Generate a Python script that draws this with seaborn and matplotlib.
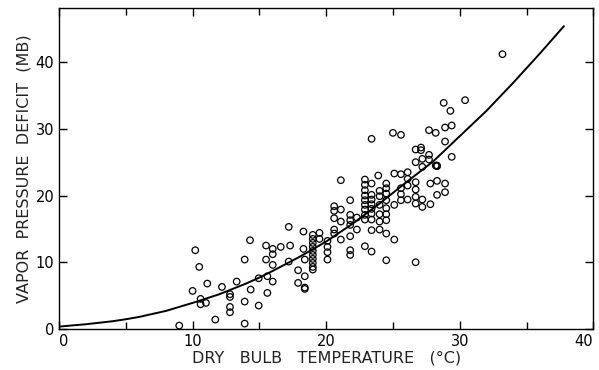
import matplotlib
matplotlib.use("Agg")
import matplotlib.pyplot as plt
import seaborn as sns
import pandas as pd
from matplotlib.ticker import MultipleLocator

# Observed points (dry bulb temperature °C, vapor pressure deficit mb)
obs_temp = [
    9.0, 10.0, 10.2, 10.5, 10.6, 10.6, 11.0, 11.1, 11.7, 12.2,
    12.8, 12.8, 12.8, 12.8, 13.3, 13.9, 13.9, 13.9, 14.3, 14.35,
    14.95, 14.95, 15.5, 15.5, 15.6, 15.6, 16.0, 16.0, 16.0, 16.0,
    16.6, 17.2, 17.3, 17.2, 17.9, 17.9, 18.3, 18.3, 18.4, 18.4, 18.4, 18.4,
    19.0, 19.0, 19.0, 19.0, 19.0, 19.0, 19.0, 19.0, 19.0, 19.0,
    19.5, 19.5,
    20.1, 20.1, 20.1, 20.1,
    20.6, 20.6, 20.6, 20.6, 20.6,
    21.1, 21.1, 21.1, 21.1,
    21.8, 21.8, 21.8, 21.8, 21.8, 21.8, 21.8,
    22.3, 22.3,
    22.9, 22.9, 22.9, 22.9, 22.9, 22.9, 22.9, 22.9, 22.9, 22.9,
    23.4, 23.4, 23.4, 23.4, 23.4, 23.4, 23.4, 23.4, 23.4, 23.4,
    23.9, 24.0, 24.0, 24.0, 24.0, 24.0, 24.0,
    24.5, 24.5, 24.5, 24.5, 24.5, 24.5, 24.5, 24.5, 24.5,
    25.0, 25.1, 25.1, 25.1,
    25.6, 25.6, 25.6, 25.6, 25.6,
    26.1, 26.1, 26.1, 26.1,
    26.7, 26.7, 26.7, 26.7, 26.7, 26.7, 26.7,
    27.1, 27.1, 27.2, 27.2, 27.2, 27.2,
    27.7, 27.7, 27.7, 27.8, 27.8,
    28.2, 28.2, 28.3, 28.3, 28.3, 28.3,
    28.8, 28.9, 28.9, 28.9, 28.9,
    29.3, 29.4, 29.4,
    30.4, 33.2,
]
obs_vpd = [
    0.5, 5.7, 11.8, 9.3, 4.5, 3.7, 3.9, 6.8, 1.4, 6.3,
    5.2, 4.8, 3.3, 2.5, 7.1, 10.4, 4.1, 0.8, 13.3, 5.9,
    7.6, 3.5, 12.5, 10.4, 7.9, 5.4, 12.0, 11.2, 9.6, 7.1,
    12.3, 15.3, 12.5, 10.1, 8.8, 6.9, 14.6, 12.0, 10.4, 7.9, 6.2, 6.0,
    14.1, 13.5, 12.9, 12.3, 11.7, 11.1, 10.5, 9.9, 9.3, 8.9,
    14.4, 13.5,
    13.2, 12.3, 11.5, 10.4,
    18.4, 17.7, 16.6, 14.9, 14.3,
    22.3, 17.9, 16.1, 13.4,
    19.3, 17.1, 16.3, 15.6, 13.9, 11.8, 11.1,
    16.7, 14.9,
    22.4, 21.6, 20.8, 20.0, 19.3, 18.6, 17.9, 17.1, 16.4, 12.4,
    28.5, 21.8, 20.1, 19.4, 18.7, 18.0, 17.3, 16.4, 14.8, 11.6,
    23.0, 20.7, 19.9, 18.6, 17.2, 16.1, 14.9,
    21.8, 21.1, 20.3, 19.3, 18.1, 17.2, 16.3, 14.3, 10.3,
    29.4, 23.3, 18.6, 13.4,
    29.1, 23.2, 21.1, 20.2, 19.3,
    23.5, 22.5, 21.5, 19.4,
    26.9, 25.0, 22.0, 20.9, 19.8, 18.8, 10.0,
    27.2, 26.8, 25.5, 24.3, 19.4, 18.3,
    29.8, 26.1, 25.4, 21.8, 18.7,
    29.4, 24.5, 24.5, 24.4, 22.2, 20.1,
    33.9, 30.2, 28.1, 21.8, 20.5,
    32.7, 30.5, 25.8,
    34.3, 41.2,
]

# Fitted curve
curve_temp = [0, 2, 4, 5, 6, 8, 10, 12, 14, 15, 16, 18, 20, 22, 24, 25, 26,
              28, 30, 32, 34, 36, 37.8]
curve_vpd = [0.35, 0.7, 1.15, 1.45, 1.8, 2.7, 3.9, 5.2, 6.8, 7.7, 8.7, 10.8,
             13.1, 15.8, 18.8, 20.4, 22.0, 25.1, 28.9, 32.7, 36.9, 41.3, 45.4]

x_ticks = [0, 10, 20, 30, 40]
x_tick_labels = ["0", "10", "20", "30", "40"]
y_ticks = [0, 10, 20, 30, 40]
y_tick_labels = ["0", "10", "20", "30", "40"]

sns.set_theme(style="ticks")
plt.rcParams['font.family'] = ['DejaVu Sans']

fig = plt.figure(figsize=(5.99, 3.70), dpi=100)
ax = fig.add_axes([0.0985, 0.111, 0.892, 0.867])

obs = pd.DataFrame({"t": obs_temp, "v": obs_vpd})
cur = pd.DataFrame({"t": curve_temp, "v": curve_vpd})

sns.lineplot(data=cur, x="t", y="v", ax=ax, color="black", linewidth=1.4, sort=True)
sns.scatterplot(data=obs, x="t", y="v", ax=ax, marker="o", s=22,
                facecolor="none", edgecolor="black", linewidth=0.9, zorder=3)

ax.set_xlim(0, 40)
ax.set_ylim(0, 48.1)
ax.set_xticks(x_ticks, labels=x_tick_labels)
ax.set_yticks(y_ticks, labels=y_tick_labels)
ax.xaxis.set_minor_locator(MultipleLocator(5))
ax.tick_params(which="both", direction="in", top=True, right=True,
               labelsize=10.5, colors="black", width=1.0)
ax.tick_params(which="major", length=6)
ax.tick_params(which="minor", length=5)
for s in ax.spines.values():
    s.set_color("black")
    s.set_linewidth(1.0)

xl = ax.get_xticklabels()
xl[-1].set_horizontalalignment("right")
xl[0].set_horizontalalignment("left")

ax.set_xlabel("DRY   BULB   TEMPERATURE   (°C)", fontsize=11.5, labelpad=1,
              color="#222222")
ax.set_ylabel("VAPOR  PRESSURE  DEFICIT  (MB)", fontsize=11.5, labelpad=3,
              color="#222222")

fig.savefig("out.png", dpi=100, facecolor="white")
